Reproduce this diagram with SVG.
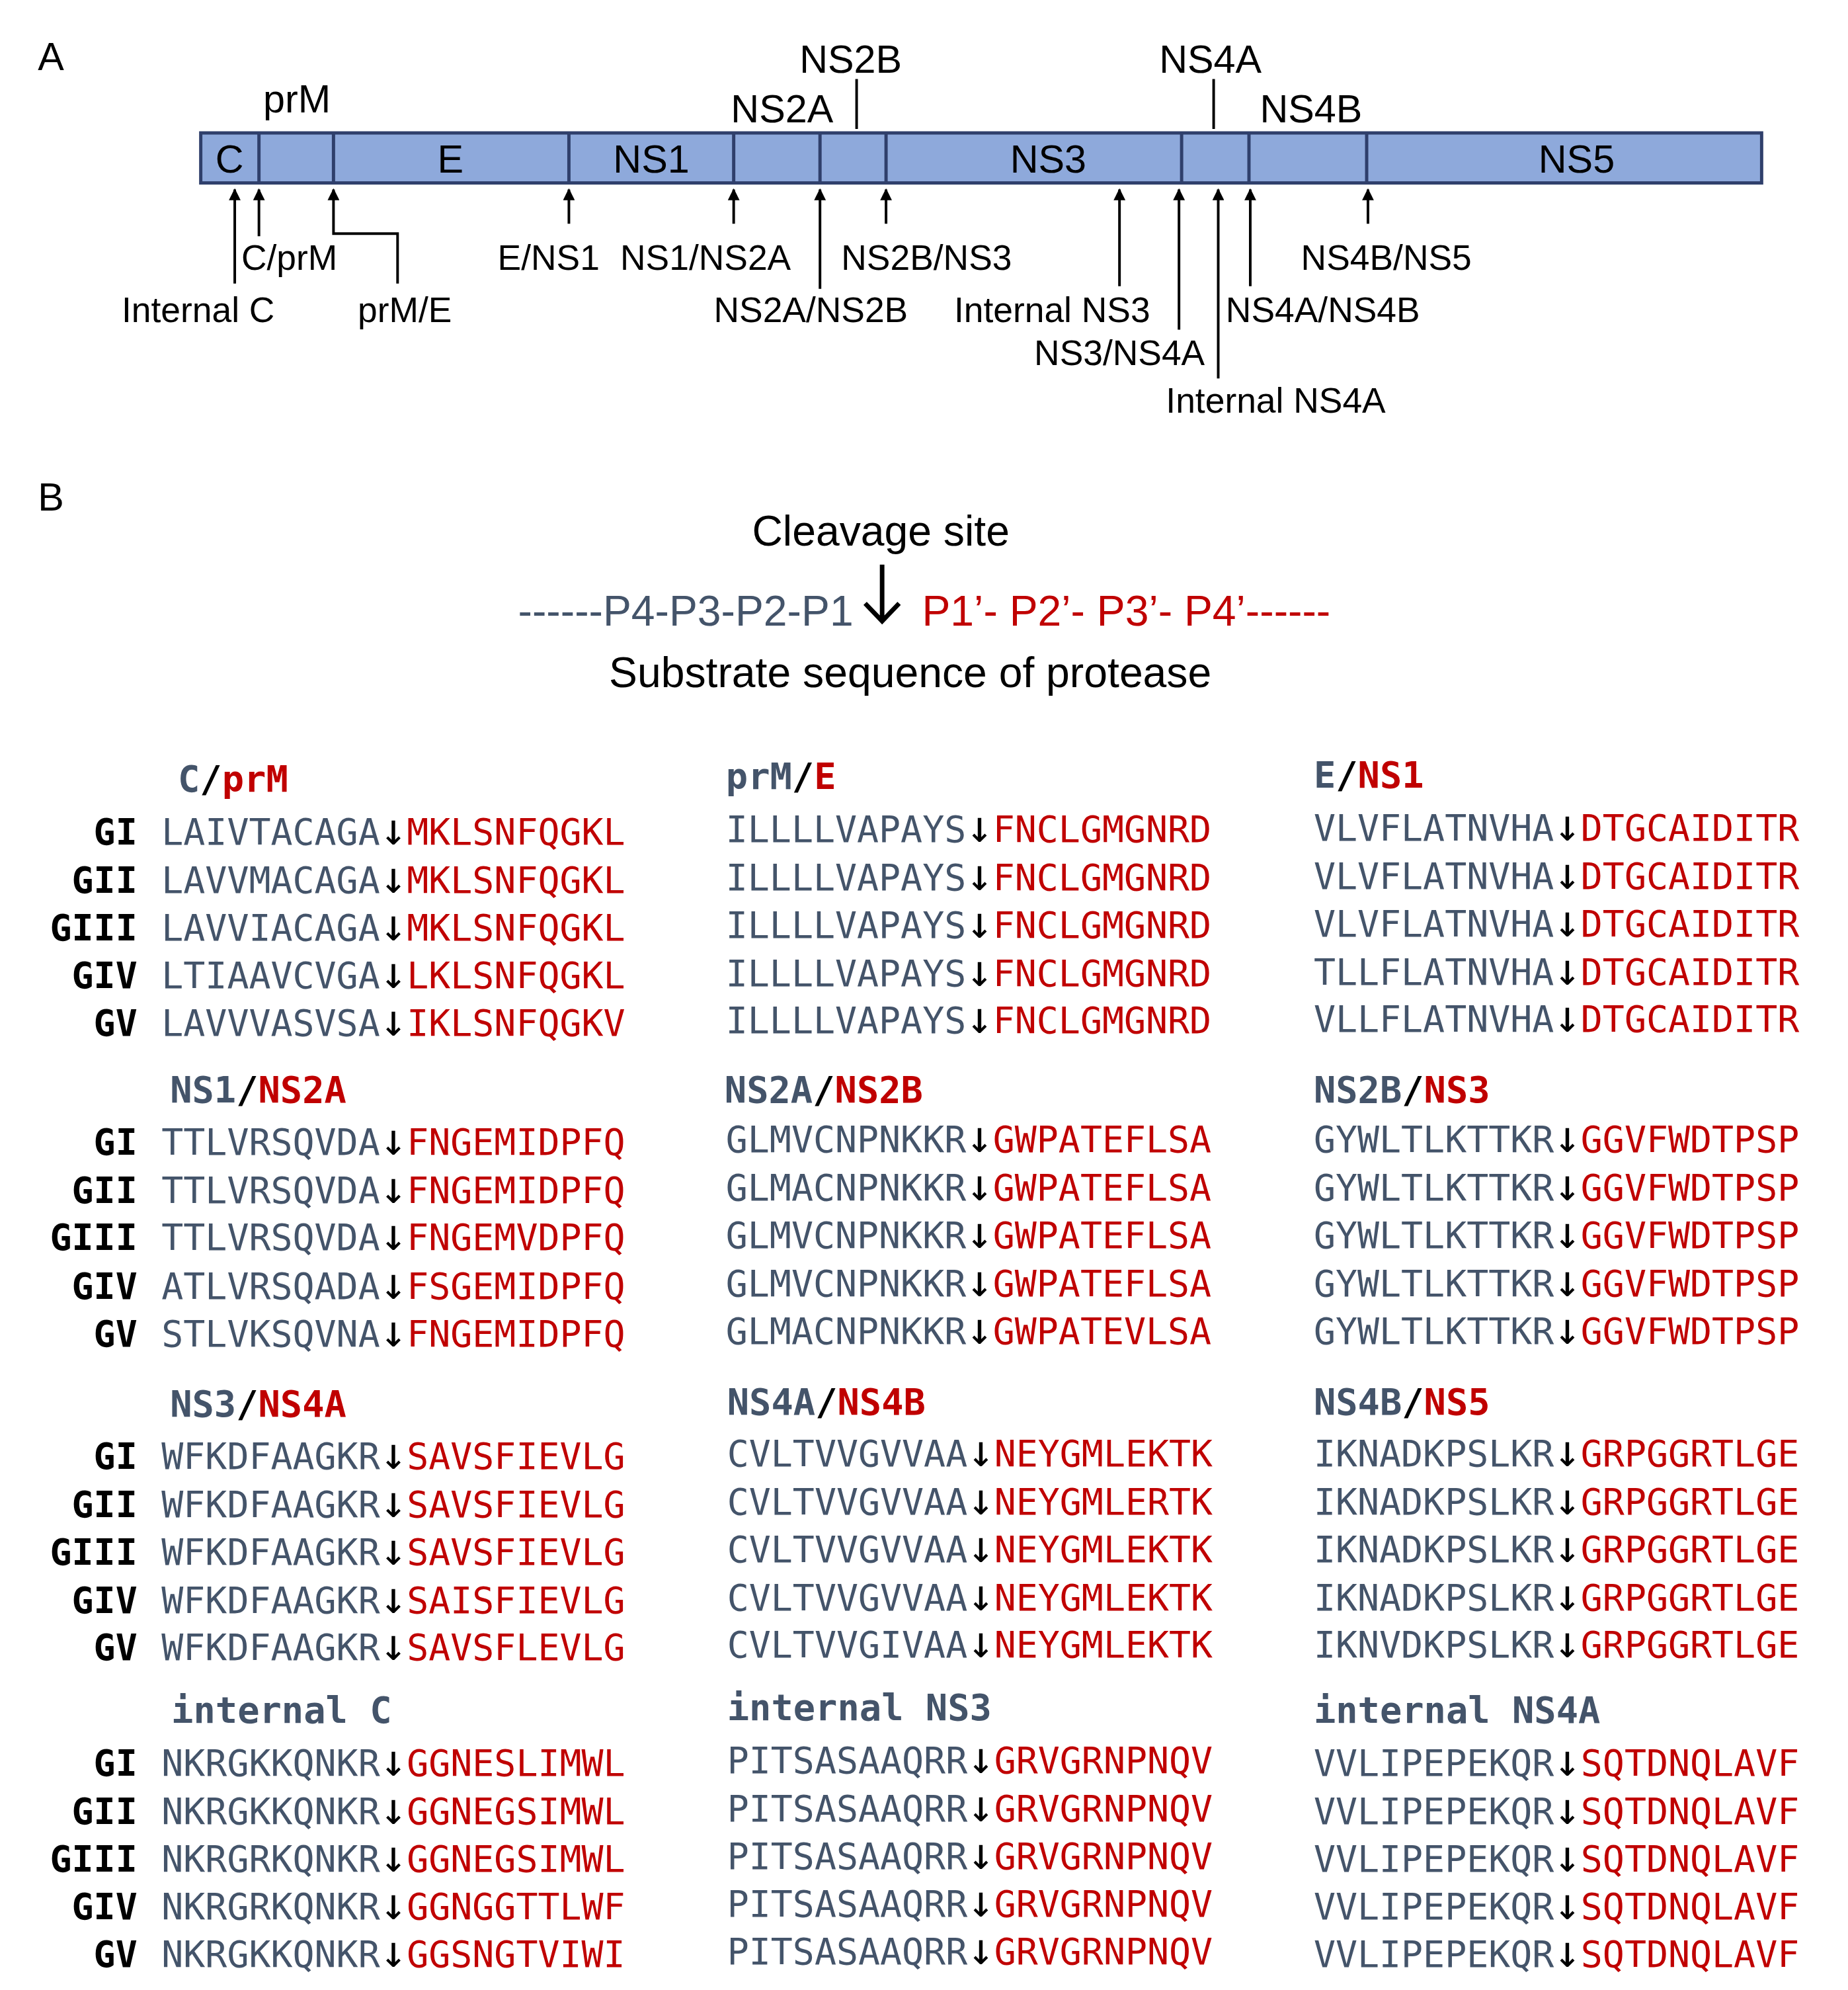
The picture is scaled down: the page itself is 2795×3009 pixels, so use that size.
<svg xmlns="http://www.w3.org/2000/svg" width="2795" height="3009" viewBox="0 0 2795 3009">
<defs>
<marker id="ah" viewBox="0 0 10 10" refX="9" refY="5" markerWidth="28" markerHeight="18" markerUnits="userSpaceOnUse" orient="auto"><path d="M0,0 L10,5 L0,10 z" fill="#000"/></marker>
<style>
.t{font-family:"Liberation Sans",Arial,sans-serif;fill:#000}
.lab{font-size:54px}
.big{font-size:60px}
.seq{font-family:"DejaVu Sans Mono",monospace;font-size:55.5px}
.g{font-family:"DejaVu Sans Mono",monospace;font-size:55.5px;font-weight:bold;text-anchor:end;fill:#000}
.h{font-family:"DejaVu Sans Mono",monospace;font-size:56px;font-weight:bold}
.d{fill:#44546A}.r{fill:#C00000}.k{fill:#000;font-size:68px}
.ln{stroke:#000;stroke-width:4;fill:none}
.ar{stroke:#000;stroke-width:4;fill:none;marker-end:url(#ah)}
</style>
</defs>
<rect width="2795" height="3009" fill="#fff"/>
<g transform="scale(0.989,0.995)">
<text class="t big" x="58" y="107">A</text>
<text class="t big" x="58" y="776">B</text>
<g id="polyprotein">
<rect x="307" y="202" width="2387" height="76" fill="#8EA9DB" stroke="#2F3F6B" stroke-width="5"/>
<path d="M396 202V278M510 202V278M870 202V278M1122 202V278M1254 202V278M1355 202V278M1807 202V278M1910 202V278M2090 202V278" stroke="#2F3F6B" stroke-width="5" fill="none"/>
<g class="t" font-size="60" text-anchor="middle">
<text x="351" y="262">C</text><text x="689" y="262">E</text><text x="996" y="262">NS1</text><text x="1603" y="262">NS3</text><text x="2411" y="262">NS5</text>
<text x="454" y="171">prM</text><text x="1196" y="186">NS2A</text><text x="1301" y="111">NS2B</text><text x="1851" y="111">NS4A</text><text x="2005" y="186">NS4B</text>
</g>
</g>
<g id="connectors">
<path class="ln" d="M1310 120V196M1856 120V196"/>
<path class="ar" d="M359 431V288"/>
<path class="ar" d="M396 359V288"/>
<path class="ar" d="M608 431V355H510V288"/>
<path class="ar" d="M870 340V288"/>
<path class="ar" d="M1122 340V288"/>
<path class="ar" d="M1254 439V288"/>
<path class="ar" d="M1355 340V288"/>
<path class="ar" d="M1712 435V288"/>
<path class="ar" d="M1803 501V288"/>
<path class="ar" d="M1863 575V288"/>
<path class="ar" d="M1912 435V288"/>
<path class="ar" d="M2092 340V288"/>
<path d="M1349 858V944M1323 917L1349 944L1375 917" stroke="#000" stroke-width="7" fill="none"/>
</g>
<g id="site-labels" class="t lab">
<text x="369" y="410">C/prM</text>
<text x="303" y="489" text-anchor="middle">Internal C</text>
<text x="619" y="489" text-anchor="middle">prM/E</text>
<text x="839" y="410" text-anchor="middle">E/NS1</text>
<text x="1079" y="410" text-anchor="middle">NS1/NS2A</text>
<text x="1240" y="489" text-anchor="middle">NS2A/NS2B</text>
<text x="1417" y="410" text-anchor="middle">NS2B/NS3</text>
<text x="1609" y="489" text-anchor="middle">Internal NS3</text>
<text x="1712" y="555" text-anchor="middle">NS3/NS4A</text>
<text x="2023" y="489" text-anchor="middle">NS4A/NS4B</text>
<text x="1951" y="627" text-anchor="middle">Internal NS4A</text>
<text x="2120" y="410" text-anchor="middle">NS4B/NS5</text>
</g>
<g id="legend" class="t" font-size="65">
<text x="1347" y="829" text-anchor="middle">Cleavage site</text>
<text x="1305" y="951" text-anchor="end" fill="#44546A">------P4-P3-P2-P1</text>
<text x="1410" y="951" fill="#C00000">P1’- P2’- P3’- P4’------</text>
<text x="1392" y="1044" text-anchor="middle">Substrate sequence of protease</text>
</g>
<g id="col1">
<text class="h" x="272" y="1203"><tspan class="d">C</tspan><tspan class="k" style="font-size:56px">/</tspan><tspan class="r">prM</tspan></text>
<text class="g" x="210" y="1283">GI</text><text class="seq" x="247" y="1283"><tspan class="d">LAIVTACAGA</tspan><tspan class="k">↓</tspan><tspan class="r">MKLSNFQGKL</tspan></text>
<text class="g" x="210" y="1357">GII</text><text class="seq" x="247" y="1357"><tspan class="d">LAVVMACAGA</tspan><tspan class="k">↓</tspan><tspan class="r">MKLSNFQGKL</tspan></text>
<text class="g" x="210" y="1429">GIII</text><text class="seq" x="247" y="1429"><tspan class="d">LAVVIACAGA</tspan><tspan class="k">↓</tspan><tspan class="r">MKLSNFQGKL</tspan></text>
<text class="g" x="210" y="1502">GIV</text><text class="seq" x="247" y="1502"><tspan class="d">LTIAAVCVGA</tspan><tspan class="k">↓</tspan><tspan class="r">LKLSNFQGKL</tspan></text>
<text class="g" x="210" y="1574">GV</text><text class="seq" x="247" y="1574"><tspan class="d">LAVVVASVSA</tspan><tspan class="k">↓</tspan><tspan class="r">IKLSNFQGKV</tspan></text>

<text class="h" x="260" y="1675"><tspan class="d">NS1</tspan><tspan class="k" style="font-size:56px">/</tspan><tspan class="r">NS2A</tspan></text>
<text class="g" x="210" y="1755">GI</text><text class="seq" x="247" y="1755"><tspan class="d">TTLVRSQVDA</tspan><tspan class="k">↓</tspan><tspan class="r">FNGEMIDPFQ</tspan></text>
<text class="g" x="210" y="1828">GII</text><text class="seq" x="247" y="1828"><tspan class="d">TTLVRSQVDA</tspan><tspan class="k">↓</tspan><tspan class="r">FNGEMIDPFQ</tspan></text>
<text class="g" x="210" y="1900">GIII</text><text class="seq" x="247" y="1900"><tspan class="d">TTLVRSQVDA</tspan><tspan class="k">↓</tspan><tspan class="r">FNGEMVDPFQ</tspan></text>
<text class="g" x="210" y="1974">GIV</text><text class="seq" x="247" y="1974"><tspan class="d">ATLVRSQADA</tspan><tspan class="k">↓</tspan><tspan class="r">FSGEMIDPFQ</tspan></text>
<text class="g" x="210" y="2046">GV</text><text class="seq" x="247" y="2046"><tspan class="d">STLVKSQVNA</tspan><tspan class="k">↓</tspan><tspan class="r">FNGEMIDPFQ</tspan></text>

<text class="h" x="260" y="2153"><tspan class="d">NS3</tspan><tspan class="k" style="font-size:56px">/</tspan><tspan class="r">NS4A</tspan></text>
<text class="g" x="210" y="2232">GI</text><text class="seq" x="247" y="2232"><tspan class="d">WFKDFAAGKR</tspan><tspan class="k">↓</tspan><tspan class="r">SAVSFIEVLG</tspan></text>
<text class="g" x="210" y="2306">GII</text><text class="seq" x="247" y="2306"><tspan class="d">WFKDFAAGKR</tspan><tspan class="k">↓</tspan><tspan class="r">SAVSFIEVLG</tspan></text>
<text class="g" x="210" y="2378">GIII</text><text class="seq" x="247" y="2378"><tspan class="d">WFKDFAAGKR</tspan><tspan class="k">↓</tspan><tspan class="r">SAVSFIEVLG</tspan></text>
<text class="g" x="210" y="2451">GIV</text><text class="seq" x="247" y="2451"><tspan class="d">WFKDFAAGKR</tspan><tspan class="k">↓</tspan><tspan class="r">SAISFIEVLG</tspan></text>
<text class="g" x="210" y="2523">GV</text><text class="seq" x="247" y="2523"><tspan class="d">WFKDFAAGKR</tspan><tspan class="k">↓</tspan><tspan class="r">SAVSFLEVLG</tspan></text>

<text class="h d" x="262" y="2618">internal C</text>
<text class="g" x="210" y="2698">GI</text><text class="seq" x="247" y="2698"><tspan class="d">NKRGKKQNKR</tspan><tspan class="k">↓</tspan><tspan class="r">GGNESLIMWL</tspan></text>
<text class="g" x="210" y="2772">GII</text><text class="seq" x="247" y="2772"><tspan class="d">NKRGKKQNKR</tspan><tspan class="k">↓</tspan><tspan class="r">GGNEGSIMWL</tspan></text>
<text class="g" x="210" y="2844">GIII</text><text class="seq" x="247" y="2844"><tspan class="d">NKRGRKQNKR</tspan><tspan class="k">↓</tspan><tspan class="r">GGNEGSIMWL</tspan></text>
<text class="g" x="210" y="2917">GIV</text><text class="seq" x="247" y="2917"><tspan class="d">NKRGRKQNKR</tspan><tspan class="k">↓</tspan><tspan class="r">GGNGGTTLWF</tspan></text>
<text class="g" x="210" y="2989">GV</text><text class="seq" x="247" y="2989"><tspan class="d">NKRGKKQNKR</tspan><tspan class="k">↓</tspan><tspan class="r">GGSNGTVIWI</tspan></text>
</g>
<g id="col2">
<text class="h" x="1110" y="1199"><tspan class="d">prM</tspan><tspan class="k" style="font-size:56px">/</tspan><tspan class="r">E</tspan></text>
<text class="seq" x="1110" y="1279"><tspan class="d">ILLLLVAPAYS</tspan><tspan class="k">↓</tspan><tspan class="r">FNCLGMGNRD</tspan></text>
<text class="seq" x="1110" y="1353"><tspan class="d">ILLLLVAPAYS</tspan><tspan class="k">↓</tspan><tspan class="r">FNCLGMGNRD</tspan></text>
<text class="seq" x="1110" y="1425"><tspan class="d">ILLLLVAPAYS</tspan><tspan class="k">↓</tspan><tspan class="r">FNCLGMGNRD</tspan></text>
<text class="seq" x="1110" y="1498"><tspan class="d">ILLLLVAPAYS</tspan><tspan class="k">↓</tspan><tspan class="r">FNCLGMGNRD</tspan></text>
<text class="seq" x="1110" y="1570"><tspan class="d">ILLLLVAPAYS</tspan><tspan class="k">↓</tspan><tspan class="r">FNCLGMGNRD</tspan></text>

<text class="h" x="1108" y="1675"><tspan class="d">NS2A</tspan><tspan class="k" style="font-size:56px">/</tspan><tspan class="r">NS2B</tspan></text>
<text class="seq" x="1110" y="1751"><tspan class="d">GLMVCNPNKKR</tspan><tspan class="k">↓</tspan><tspan class="r">GWPATEFLSA</tspan></text>
<text class="seq" x="1110" y="1824"><tspan class="d">GLMACNPNKKR</tspan><tspan class="k">↓</tspan><tspan class="r">GWPATEFLSA</tspan></text>
<text class="seq" x="1110" y="1896"><tspan class="d">GLMVCNPNKKR</tspan><tspan class="k">↓</tspan><tspan class="r">GWPATEFLSA</tspan></text>
<text class="seq" x="1110" y="1970"><tspan class="d">GLMVCNPNKKR</tspan><tspan class="k">↓</tspan><tspan class="r">GWPATEFLSA</tspan></text>
<text class="seq" x="1110" y="2042"><tspan class="d">GLMACNPNKKR</tspan><tspan class="k">↓</tspan><tspan class="r">GWPATEVLSA</tspan></text>

<text class="h" x="1112" y="2150"><tspan class="d">NS4A</tspan><tspan class="k" style="font-size:56px">/</tspan><tspan class="r">NS4B</tspan></text>
<text class="seq" x="1112" y="2228"><tspan class="d">CVLTVVGVVAA</tspan><tspan class="k">↓</tspan><tspan class="r">NEYGMLEKTK</tspan></text>
<text class="seq" x="1112" y="2302"><tspan class="d">CVLTVVGVVAA</tspan><tspan class="k">↓</tspan><tspan class="r">NEYGMLERTK</tspan></text>
<text class="seq" x="1112" y="2374"><tspan class="d">CVLTVVGVVAA</tspan><tspan class="k">↓</tspan><tspan class="r">NEYGMLEKTK</tspan></text>
<text class="seq" x="1112" y="2447"><tspan class="d">CVLTVVGVVAA</tspan><tspan class="k">↓</tspan><tspan class="r">NEYGMLEKTK</tspan></text>
<text class="seq" x="1112" y="2519"><tspan class="d">CVLTVVGIVAA</tspan><tspan class="k">↓</tspan><tspan class="r">NEYGMLEKTK</tspan></text>

<text class="h d" x="1112" y="2614">internal NS3</text>
<text class="seq" x="1112" y="2694"><tspan class="d">PITSASAAQRR</tspan><tspan class="k">↓</tspan><tspan class="r">GRVGRNPNQV</tspan></text>
<text class="seq" x="1112" y="2768"><tspan class="d">PITSASAAQRR</tspan><tspan class="k">↓</tspan><tspan class="r">GRVGRNPNQV</tspan></text>
<text class="seq" x="1112" y="2840"><tspan class="d">PITSASAAQRR</tspan><tspan class="k">↓</tspan><tspan class="r">GRVGRNPNQV</tspan></text>
<text class="seq" x="1112" y="2913"><tspan class="d">PITSASAAQRR</tspan><tspan class="k">↓</tspan><tspan class="r">GRVGRNPNQV</tspan></text>
<text class="seq" x="1112" y="2985"><tspan class="d">PITSASAAQRR</tspan><tspan class="k">↓</tspan><tspan class="r">GRVGRNPNQV</tspan></text>
</g>
<g id="col3">
<text class="h" x="2009" y="1197"><tspan class="d">E</tspan><tspan class="k" style="font-size:56px">/</tspan><tspan class="r">NS1</tspan></text>
<text class="seq" x="2009" y="1277"><tspan class="d">VLVFLATNVHA</tspan><tspan class="k">↓</tspan><tspan class="r">DTGCAIDITR</tspan></text>
<text class="seq" x="2009" y="1351"><tspan class="d">VLVFLATNVHA</tspan><tspan class="k">↓</tspan><tspan class="r">DTGCAIDITR</tspan></text>
<text class="seq" x="2009" y="1423"><tspan class="d">VLVFLATNVHA</tspan><tspan class="k">↓</tspan><tspan class="r">DTGCAIDITR</tspan></text>
<text class="seq" x="2009" y="1496"><tspan class="d">TLLFLATNVHA</tspan><tspan class="k">↓</tspan><tspan class="r">DTGCAIDITR</tspan></text>
<text class="seq" x="2009" y="1568"><tspan class="d">VLLFLATNVHA</tspan><tspan class="k">↓</tspan><tspan class="r">DTGCAIDITR</tspan></text>

<text class="h" x="2009" y="1675"><tspan class="d">NS2B</tspan><tspan class="k" style="font-size:56px">/</tspan><tspan class="r">NS3</tspan></text>
<text class="seq" x="2009" y="1751"><tspan class="d">GYWLTLKTTKR</tspan><tspan class="k">↓</tspan><tspan class="r">GGVFWDTPSP</tspan></text>
<text class="seq" x="2009" y="1824"><tspan class="d">GYWLTLKTTKR</tspan><tspan class="k">↓</tspan><tspan class="r">GGVFWDTPSP</tspan></text>
<text class="seq" x="2009" y="1896"><tspan class="d">GYWLTLKTTKR</tspan><tspan class="k">↓</tspan><tspan class="r">GGVFWDTPSP</tspan></text>
<text class="seq" x="2009" y="1970"><tspan class="d">GYWLTLKTTKR</tspan><tspan class="k">↓</tspan><tspan class="r">GGVFWDTPSP</tspan></text>
<text class="seq" x="2009" y="2042"><tspan class="d">GYWLTLKTTKR</tspan><tspan class="k">↓</tspan><tspan class="r">GGVFWDTPSP</tspan></text>

<text class="h" x="2009" y="2150"><tspan class="d">NS4B</tspan><tspan class="k" style="font-size:56px">/</tspan><tspan class="r">NS5</tspan></text>
<text class="seq" x="2009" y="2228"><tspan class="d">IKNADKPSLKR</tspan><tspan class="k">↓</tspan><tspan class="r">GRPGGRTLGE</tspan></text>
<text class="seq" x="2009" y="2302"><tspan class="d">IKNADKPSLKR</tspan><tspan class="k">↓</tspan><tspan class="r">GRPGGRTLGE</tspan></text>
<text class="seq" x="2009" y="2374"><tspan class="d">IKNADKPSLKR</tspan><tspan class="k">↓</tspan><tspan class="r">GRPGGRTLGE</tspan></text>
<text class="seq" x="2009" y="2447"><tspan class="d">IKNADKPSLKR</tspan><tspan class="k">↓</tspan><tspan class="r">GRPGGRTLGE</tspan></text>
<text class="seq" x="2009" y="2519"><tspan class="d">IKNVDKPSLKR</tspan><tspan class="k">↓</tspan><tspan class="r">GRPGGRTLGE</tspan></text>

<text class="h d" x="2009" y="2618">internal NS4A</text>
<text class="seq" x="2009" y="2698"><tspan class="d">VVLIPEPEKQR</tspan><tspan class="k">↓</tspan><tspan class="r">SQTDNQLAVF</tspan></text>
<text class="seq" x="2009" y="2772"><tspan class="d">VVLIPEPEKQR</tspan><tspan class="k">↓</tspan><tspan class="r">SQTDNQLAVF</tspan></text>
<text class="seq" x="2009" y="2844"><tspan class="d">VVLIPEPEKQR</tspan><tspan class="k">↓</tspan><tspan class="r">SQTDNQLAVF</tspan></text>
<text class="seq" x="2009" y="2917"><tspan class="d">VVLIPEPEKQR</tspan><tspan class="k">↓</tspan><tspan class="r">SQTDNQLAVF</tspan></text>
<text class="seq" x="2009" y="2989"><tspan class="d">VVLIPEPEKQR</tspan><tspan class="k">↓</tspan><tspan class="r">SQTDNQLAVF</tspan></text>
</g>
</g>
</svg>
